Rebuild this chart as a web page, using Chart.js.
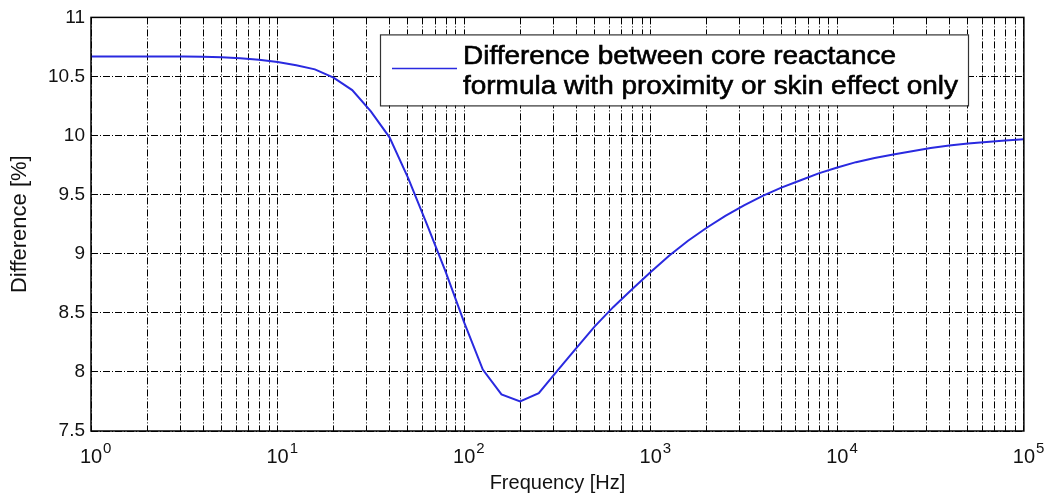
<!DOCTYPE html>
<html>
<head>
<meta charset="utf-8">
<script src="https://cdn.jsdelivr.net/npm/chart.js@4/dist/chart.umd.min.js"></script>
<style>
html,body{margin:0;padding:0;background:#fff;}
#wrap{position:relative;width:1049px;height:502px;}
</style>
</head>
<body>
<div id="wrap"><canvas id="c" width="1049" height="502"></canvas></div>
<script>
// ---- data ----
const frequencies = [1, 1.259, 1.585, 1.995, 2.512, 3.162, 3.981, 5.012, 6.310, 7.943,
  10, 12.59, 15.85, 19.95, 25.12, 31.62, 39.81, 50.12, 63.10, 79.43,
  100, 125.9, 158.5, 199.5, 251.2, 316.2, 398.1, 501.2, 631.0, 794.3,
  1000, 1259, 1585, 1995, 2512, 3162, 3981, 5012, 6310, 7943,
  10000, 12589, 15849, 19953, 25119, 31623, 39811, 50119, 63096, 79433, 100000];
const differences = [10.67, 10.67, 10.67, 10.67, 10.67, 10.67, 10.668, 10.662, 10.655, 10.642,
  10.622, 10.595, 10.56, 10.49, 10.385, 10.205, 9.985, 9.64, 9.25, 8.85,
  8.42, 8.02, 7.81, 7.75, 7.82, 8.01, 8.20, 8.385, 8.55, 8.70,
  8.845, 8.985, 9.11, 9.22, 9.32, 9.41, 9.49, 9.56, 9.62, 9.68,
  9.73, 9.775, 9.81, 9.84, 9.868, 9.895, 9.915, 9.932, 9.946, 9.958, 9.968];
const xMajorTicks = [1, 10, 100, 1000, 10000, 100000];
const xTickBase = '10';
const xTickExponents = ['0', '1', '2', '3', '4', '5'];
const xMinorMultipliers = [2, 3, 4, 5, 6, 7, 8, 9];
const yTicks = [7.5, 8, 8.5, 9, 9.5, 10, 10.5, 11];
const legendLines = ['Difference between core reactance', 'formula with proximity or skin effect only'];
const xTitle = 'Frequency [Hz]';
const yTitle = 'Difference [%]';

const FONT = "'Liberation Sans', Arial, Helvetica, sans-serif";
const LINE_COLOR = '#2a2ae0';
const TEXT_COLOR = '#111';
const GRID_DASH = [7, 2, 1, 2];

const points = frequencies.map((f, i) => ({x: f, y: differences[i]}));

const decorPlugin = {
  id: 'decor',
  afterDraw(chart) {
    const ctx = chart.ctx;
    const a = chart.chartArea;
    const xs = chart.scales.x;
    ctx.save();
    // axes box
    ctx.setLineDash([]);
    ctx.strokeStyle = '#000';
    ctx.lineWidth = 1.5;
    ctx.strokeRect(a.left, a.top, a.right - a.left, a.bottom - a.top);

    // superscript exponents of x tick labels
    ctx.fillStyle = TEXT_COLOR;
    ctx.font = '20px ' + FONT;
    const baseW = ctx.measureText(xTickBase).width;
    ctx.font = '15px ' + FONT;
    ctx.textAlign = 'left';
    ctx.textBaseline = 'alphabetic';
    xMajorTicks.forEach((v, i) => {
      const px = xs.getPixelForValue(v);
      ctx.fillText(xTickExponents[i], px + baseW / 2 + 1, a.bottom + 22);
    });

    // legend
    const bx = a.left + 289, by = a.top + 17, bw = 588, bh = 71;
    ctx.fillStyle = '#fff';
    ctx.fillRect(bx, by, bw, bh);
    ctx.strokeStyle = '#333';
    ctx.lineWidth = 1.2;
    ctx.strokeRect(bx + 0.5, by + 0.5, bw, bh);
    ctx.strokeStyle = LINE_COLOR;
    ctx.lineWidth = 1.5;
    ctx.beginPath();
    ctx.moveTo(bx + 12, by + 34);
    ctx.lineTo(bx + 77, by + 34);
    ctx.stroke();
    ctx.fillStyle = '#000';
    ctx.strokeStyle = '#000';
    ctx.lineWidth = 0.6;
    ctx.font = '26px ' + FONT;
    const w2 = ctx.measureText(legendLines[1]).width;
    const sx = 495 / w2;
    legendLines.forEach((t, i) => {
      ctx.save();
      ctx.translate(bx + 83, by + 30 + i * 30);
      ctx.scale(sx, 1);
      ctx.fillText(t, 0, 0);
      ctx.strokeText(t, 0, 0);
      ctx.restore();
    });
    ctx.restore();
  }
};

new Chart(document.getElementById('c'), {
  type: 'line',
  data: {
    datasets: [{
      label: legendLines.join(' '),
      data: points,
      borderColor: LINE_COLOR,
      borderWidth: 2,
      pointRadius: 0,
      tension: 0,
      fill: false
    }]
  },
  options: {
    responsive: false,
    animation: false,
    devicePixelRatio: 1,
    layout: {padding: {left: 0, right: 22, top: 16, bottom: 0}},
    plugins: {legend: {display: false}, tooltip: {enabled: false}},
    scales: {
      x: {
        type: 'logarithmic',
        min: 1,
        max: 100000,
        afterBuildTicks(scale) {
          const t = [];
          xMajorTicks.forEach(m => {
            t.push({value: m});
            if (m < 100000) xMinorMultipliers.forEach(k => t.push({value: m * k}));
          });
          scale.ticks = t;
        },
        afterFit(scale) { scale.height = 71; },
        grid: {color: '#000', lineWidth: 1, drawTicks: false},
        border: {display: false, dash: GRID_DASH},
        ticks: {
          autoSkip: false,
          maxRotation: 0,
          padding: 14,
          color: TEXT_COLOR,
          font: {family: FONT, size: 20},
          callback: (v) => xMajorTicks.includes(v) ? xTickBase : ''
        },
        title: {display: true, text: xTitle, color: TEXT_COLOR,
          font: {family: FONT, size: 20}, padding: {top: 0, bottom: 7}}
      },
      y: {
        type: 'linear',
        min: 7.5,
        max: 11,
        afterBuildTicks(scale) { scale.ticks = yTicks.map(v => ({value: v})); },
        afterFit(scale) { scale.width = 91; },
        grid: {color: '#000', lineWidth: 1, drawTicks: false},
        border: {display: false, dash: GRID_DASH},
        ticks: {
          padding: 6,
          color: TEXT_COLOR,
          font: {family: FONT, size: 19},
          callback: (v) => String(v)
        },
        title: {display: true, text: yTitle, color: TEXT_COLOR,
          font: {family: FONT, size: 22}, padding: {top: 7, bottom: 0}}
      }
    }
  },
  plugins: [decorPlugin]
});
</script>
</body>
</html>
